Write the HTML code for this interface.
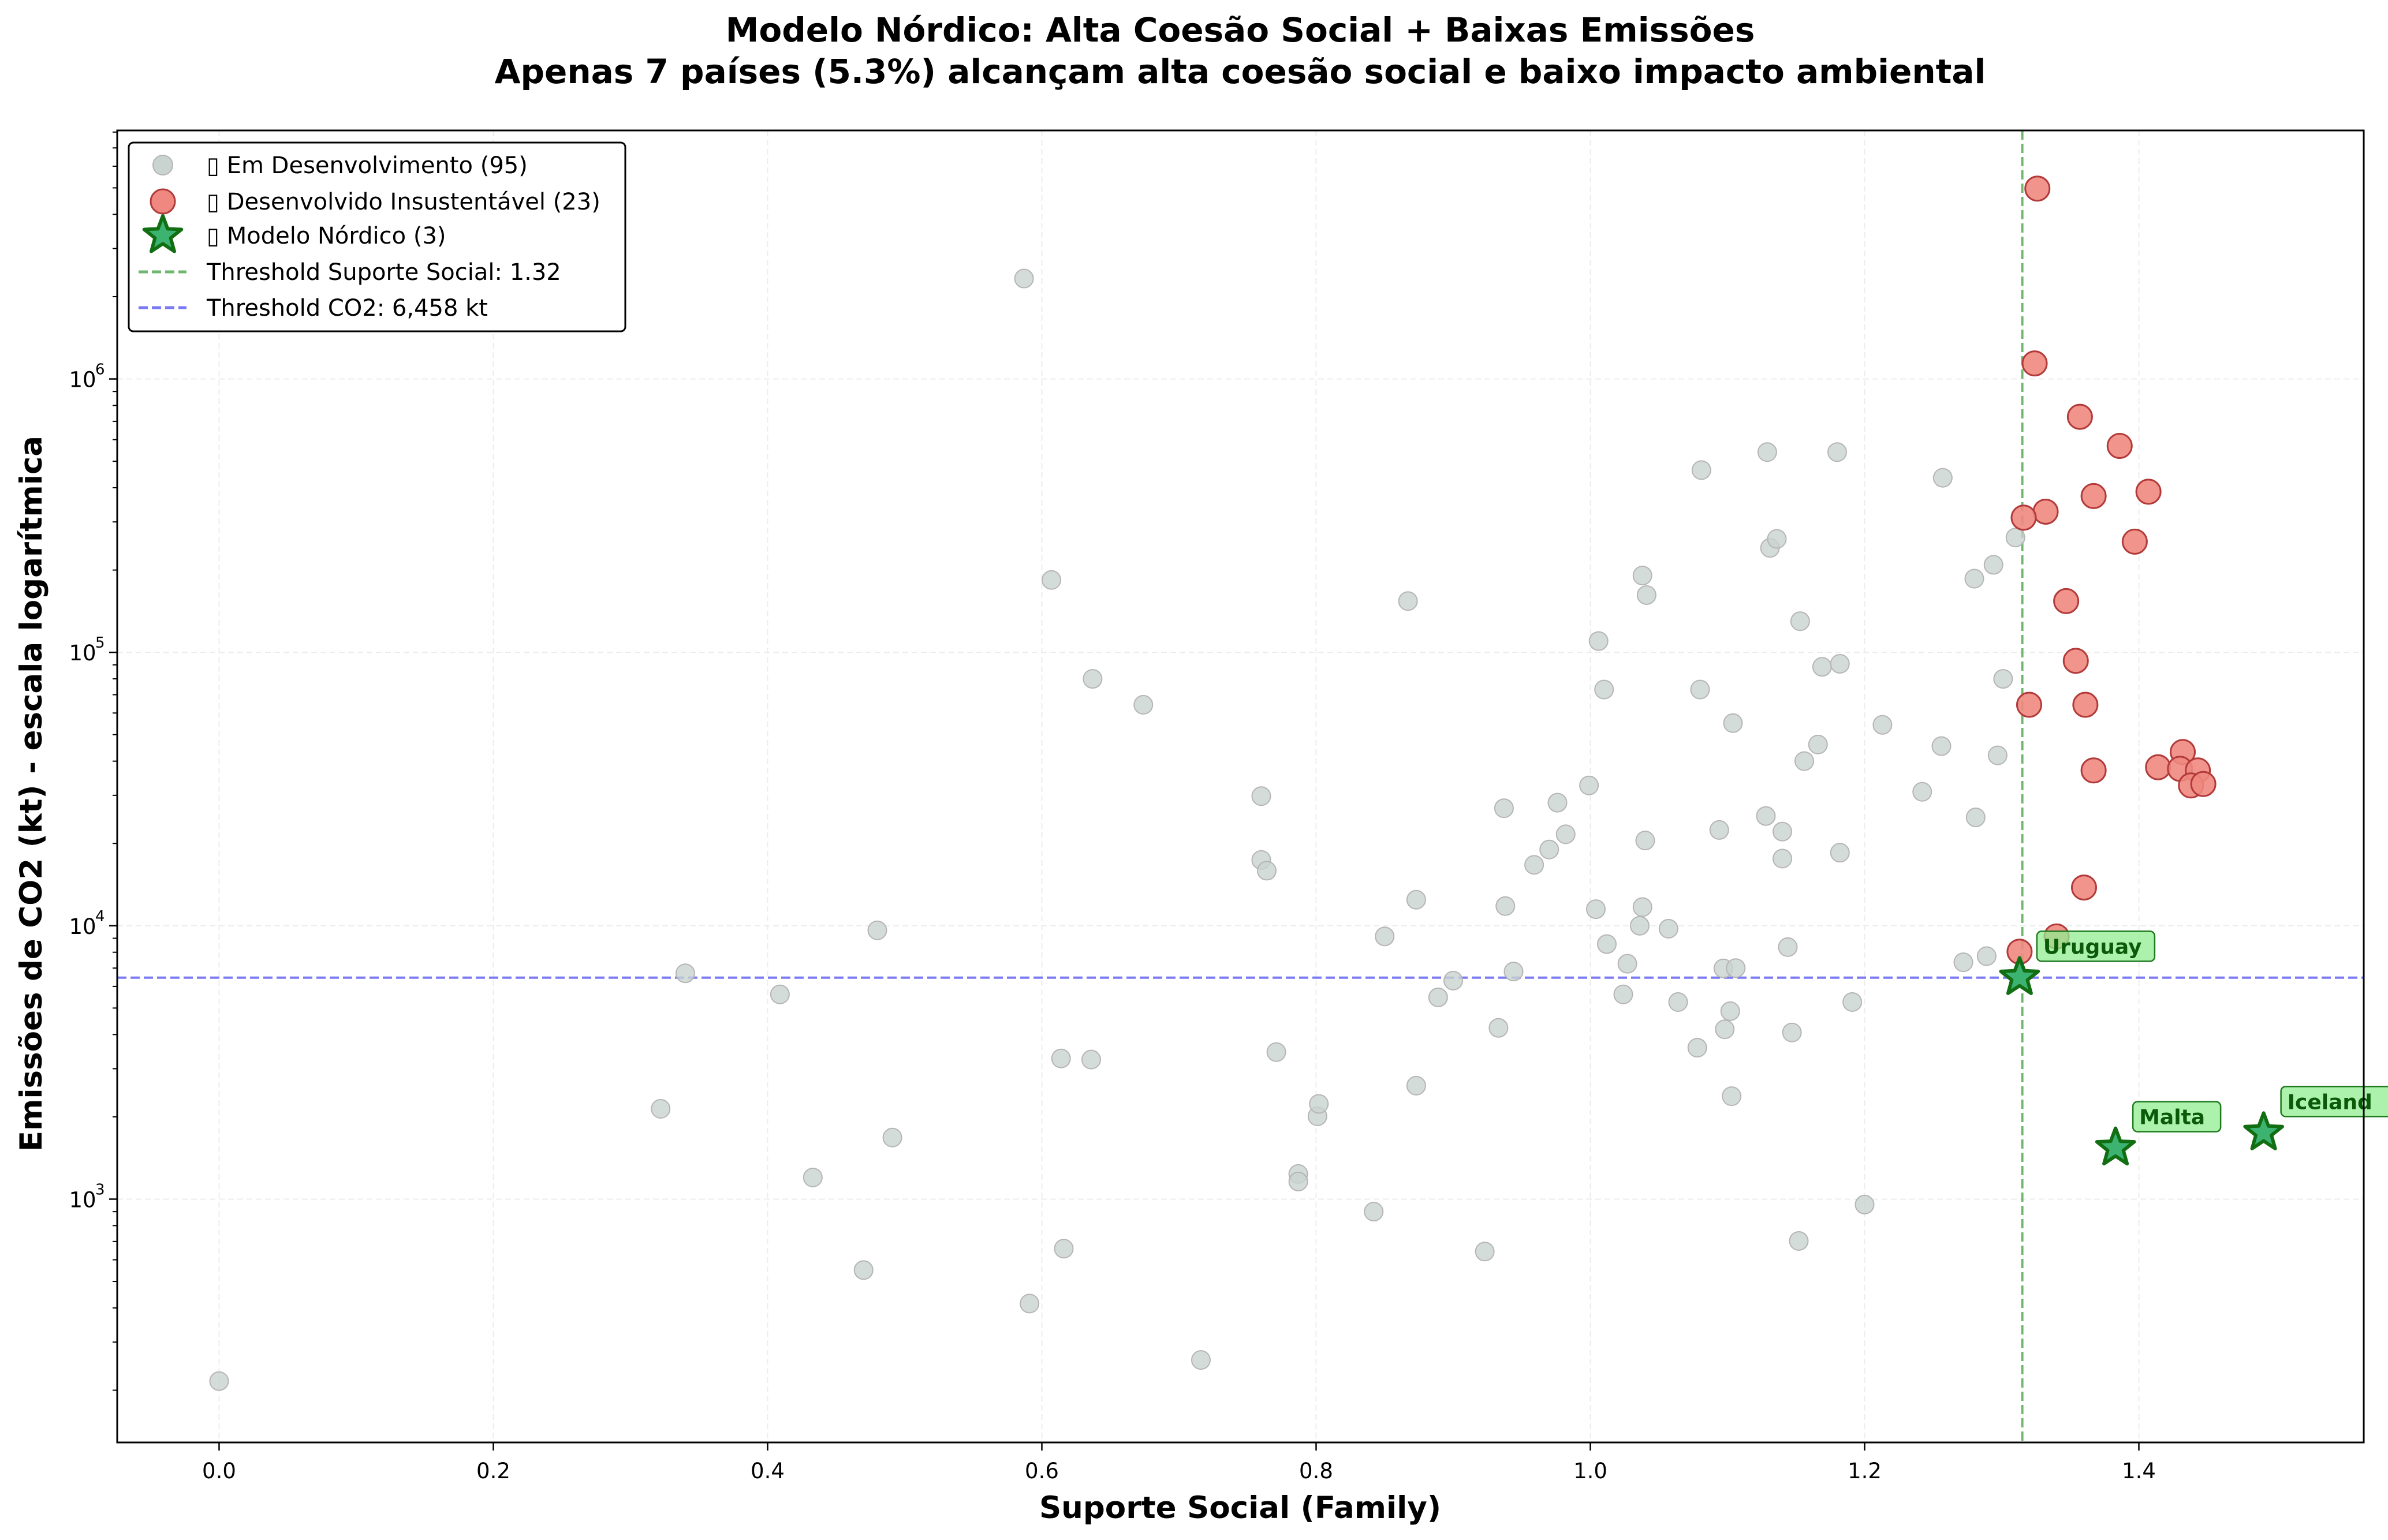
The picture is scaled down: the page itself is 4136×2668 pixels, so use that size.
<!DOCTYPE html>
<html><head><meta charset="utf-8"><style>
html,body{margin:0;padding:0;background:#fff}
svg{display:block;font-family:"DejaVu Sans","Liberation Sans",sans-serif}
</style></head><body>
<svg id="chart" width="4136" height="2668" viewBox="0 0 4136 2668" xmlns="http://www.w3.org/2000/svg">
<text x="2148" y="72" text-anchor="middle" font-size="58" font-weight="bold">Modelo Nórdico: Alta Coesão Social + Baixas Emissões</text>
<text x="2148" y="144" text-anchor="middle" font-size="58" font-weight="bold">Apenas 7 países (5.3%) alcançam alta coesão social e baixo impacto ambiental</text>
<g id="grid"></g><g id="thresholds"></g><g id="marks"></g><g id="axes"></g>
<text x="2148" y="2630" text-anchor="middle" font-size="53" font-weight="bold">Suporte Social (Family)</text>
<text transform="translate(72,1375) rotate(-90)" text-anchor="middle" font-size="53" font-weight="bold">Emissões de CO2 (kt) - escala logarítmica</text>
<g id="legend"></g>
</svg>
<script>
const devX=[0,0.322,0.340,0.409,0.433,0.470,0.480,0.491,0.587,0.591,0.607,0.614,0.616,0.636,0.637,0.674,0.716,0.760,0.760,0.764,0.771,0.787,0.787,0.801,0.802,0.842,0.850,0.867,0.873,0.873,0.889,0.900,0.933,0.937,0.938,0.944,0.923,0.959,0.970,0.976,0.982,1.006,1.004,1.012,1.010,0.999,1.027,1.024,1.036,1.038,1.038,1.041,1.040,1.057,1.064,1.078,1.081,1.080,1.094,1.097,1.098,1.102,1.106,1.103,1.104,1.129,1.128,1.131,1.136,1.140,1.140,1.144,1.147,1.152,1.153,1.156,1.166,1.169,1.180,1.182,1.182,1.191,1.200,1.213,1.242,1.257,1.256,1.272,1.280,1.281,1.289,1.294,1.297,1.301,1.310];
const devY=[216,2140,6700,5610,1200,550,9620,1680,2330000,415,184000,3270,659,3240,80000,64300,258,29800,17400,15900,3450,1236,1160,2010,2230,900,9140,154000,12450,2600,5470,6300,4230,26900,11800,6800,643,16700,19000,28200,21600,110000,11500,8570,73100,32600,7260,5610,10000,11700,191000,162000,20500,9750,5260,3580,464000,73100,22400,6980,4180,4870,7000,2380,55100,540000,25200,241000,260000,22100,17600,8350,4070,703,130000,40000,46000,88500,540000,90800,18500,5260,955,54300,30900,435000,45400,7350,186000,24900,7740,209000,42000,80000,263000];
const unsX=[1.326,1.324,1.357,1.386,1.332,1.316,1.367,1.407,1.397,1.347,1.354,1.320,1.361,1.414,1.432,1.367,1.430,1.443,1.438,1.447,1.360,1.340,1.313];
const unsY=[4970000,1140000,727000,569000,327000,311000,373000,387000,254000,154000,93100,64300,64300,38000,43200,37000,37500,37000,32600,33000,13800,9140,8040];
const nordNames=["Uruguay","Malta","Iceland"];
const nordX=[1.313,1.383,1.491];
const nordY=[6470,1540,1750];
const xTicks=[0,0.2,0.4,0.6,0.8,1.0,1.2,1.4];
const xTickLabels=["0.0","0.2","0.4","0.6","0.8","1.0","1.2","1.4"];
const yTicks=[1000,10000,100000,1000000];
const yTickExp=["3","4","5","6"];
const threshX=1.315, threshY=6458;

const L=203,R=4094,T=226,B=2499;
const xMin=-0.0743,xMax=1.564,lyMin=2.11,lyMax=6.909;
const sx=v=>L+(v-xMin)/(xMax-xMin)*(R-L);
const sy=v=>B-(Math.log10(v)-lyMin)/(lyMax-lyMin)*(B-T);
const NS="http://www.w3.org/2000/svg";
function mk(tag,attrs,parent){const e=document.createElementNS(NS,tag);for(const k in attrs)e.setAttribute(k,attrs[k]);parent.appendChild(e);return e;}
const grid=document.getElementById('grid'),marks=document.getElementById('marks'),axes=document.getElementById('axes'),thr=document.getElementById('thresholds'),leg=document.getElementById('legend');

xTicks.forEach((t,i)=>{const x=sx(t);
 const g=mk('line',{x1:x,x2:x,y1:T,y2:B,stroke:'#ececec','stroke-width':2,'stroke-dasharray':'10,6'},grid);
 
 
 const tk=mk('line',{x1:x,x2:x,y1:B,y2:B+14,stroke:'#000','stroke-width':2.5},axes);
 
 
 const tx=mk('text',{x:x,y:B+62,'text-anchor':'middle','font-size':37},axes);tx.textContent=xTickLabels[i];
 
 
});
yTicks.forEach((t,i)=>{const y=sy(t);
 const g=mk('line',{x1:L,x2:R,y1:y,y2:y,stroke:'#ececec','stroke-width':2,'stroke-dasharray':'10,6'},grid);
 
 
 const tk=mk('line',{x1:L-14,x2:L,y1:y,y2:y,stroke:'#000','stroke-width':2.5},axes);
 
 
 const tx=mk('text',{x:L-60,y:y+14,'text-anchor':'middle','font-size':37},axes);tx.textContent='10';
 
 
 const ex=mk('text',{x:L-38,y:y-8,'font-size':26},axes);ex.textContent=yTickExp[i];
 
 
});
for(let d=2;d<=6;d++)for(let m=2;m<=9;m++){const v=m*Math.pow(10,d);const y=sy(v);if(y<T||y>B)continue;
 const tk=mk('line',{x1:L-8,x2:L,y1:y,y2:y,stroke:'#000','stroke-width':2},axes);
 
 }
const fr=mk('rect',{x:L,y:T,width:R-L,height:B-T,fill:'none',stroke:'#000','stroke-width':3},axes);



const tv=mk('line',{x1:sx(threshX),x2:sx(threshX),y1:T,y2:B,stroke:'#6fb66f','stroke-width':4,'stroke-dasharray':'16,7'},thr);


const th=mk('line',{x1:L,x2:R,y1:sy(threshY),y2:sy(threshY),stroke:'#7a7af5','stroke-width':4,'stroke-dasharray':'16,7'},thr);



devX.forEach((x,i)=>{const c=mk('circle',{cx:sx(x),cy:sy(devY[i]),r:16,fill:'#c9d3d0','fill-opacity':0.8,stroke:'#b5b5b5','stroke-width':2},marks);
 
 });
unsX.forEach((x,i)=>{const c=mk('circle',{cx:sx(x),cy:sy(unsY[i]),r:21,fill:'#ee8880','fill-opacity':0.9,stroke:'#b33a3a','stroke-width':3},marks);
 
 });
function starPts(cx,cy,r){let p=[];for(let k=0;k<10;k++){const a=-Math.PI/2+k*Math.PI/5;const rr=k%2?r*0.42:r;p.push((cx+rr*Math.cos(a)).toFixed(1)+','+(cy+rr*Math.sin(a)).toFixed(1));}return p.join(' ');}
nordX.forEach((x,i)=>{const cx=sx(x),cy=sy(nordY[i]);
 const s=mk('polygon',{points:starPts(cx,cy,34),fill:'#3cb371',stroke:'#126e12','stroke-width':6,'stroke-linejoin':'round'},marks);
 
 
 const w=nordNames[i].length*26+22;
 const bx=mk('rect',{x:cx+30,y:cy-80,width:w,height:52,rx:8,fill:'#90ee90','fill-opacity':0.75,stroke:'#1e7a1e','stroke-width':2.5},marks);
 
 
 const t=mk('text',{x:cx+41,y:cy-41,'font-size':36,'font-weight':'bold',fill:'#0a5a0a'},marks);t.textContent=nordNames[i];
 
 
});

const lb=mk('rect',{x:223,y:247,width:860,height:327,rx:8,fill:'#fff',stroke:'#000','stroke-width':3},leg);


const rows=[286,349,408,471,533];
const labels=["▯ Em Desenvolvimento (95)","▯ Desenvolvido Insustentável (23)","▯ Modelo Nórdico (3)","Threshold Suporte Social: 1.32","Threshold CO2: 6,458 kt"];
let m0=mk('circle',{cx:282,cy:rows[0],r:17,fill:'#c9d3d0',stroke:'#b5b5b5','stroke-width':2},leg);

let m1=mk('circle',{cx:282,cy:rows[1],r:21,fill:'#ee8880',stroke:'#b33a3a','stroke-width':3},leg);

let m2=mk('polygon',{points:starPts(282,rows[2],34),fill:'#3cb371',stroke:'#126e12','stroke-width':6,'stroke-linejoin':'round'},leg);

let m3=mk('line',{x1:240,x2:323,y1:rows[3],y2:rows[3],stroke:'#6fb66f','stroke-width':5,'stroke-dasharray':'16,7'},leg);

let m4=mk('line',{x1:240,x2:323,y1:rows[4],y2:rows[4],stroke:'#7a7af5','stroke-width':5,'stroke-dasharray':'16,7'},leg);

labels.forEach((s,i)=>{const t=mk('text',{x:358,y:rows[i]+14,'font-size':40},leg);t.textContent=s;
 
 });
</script>
</body></html>
